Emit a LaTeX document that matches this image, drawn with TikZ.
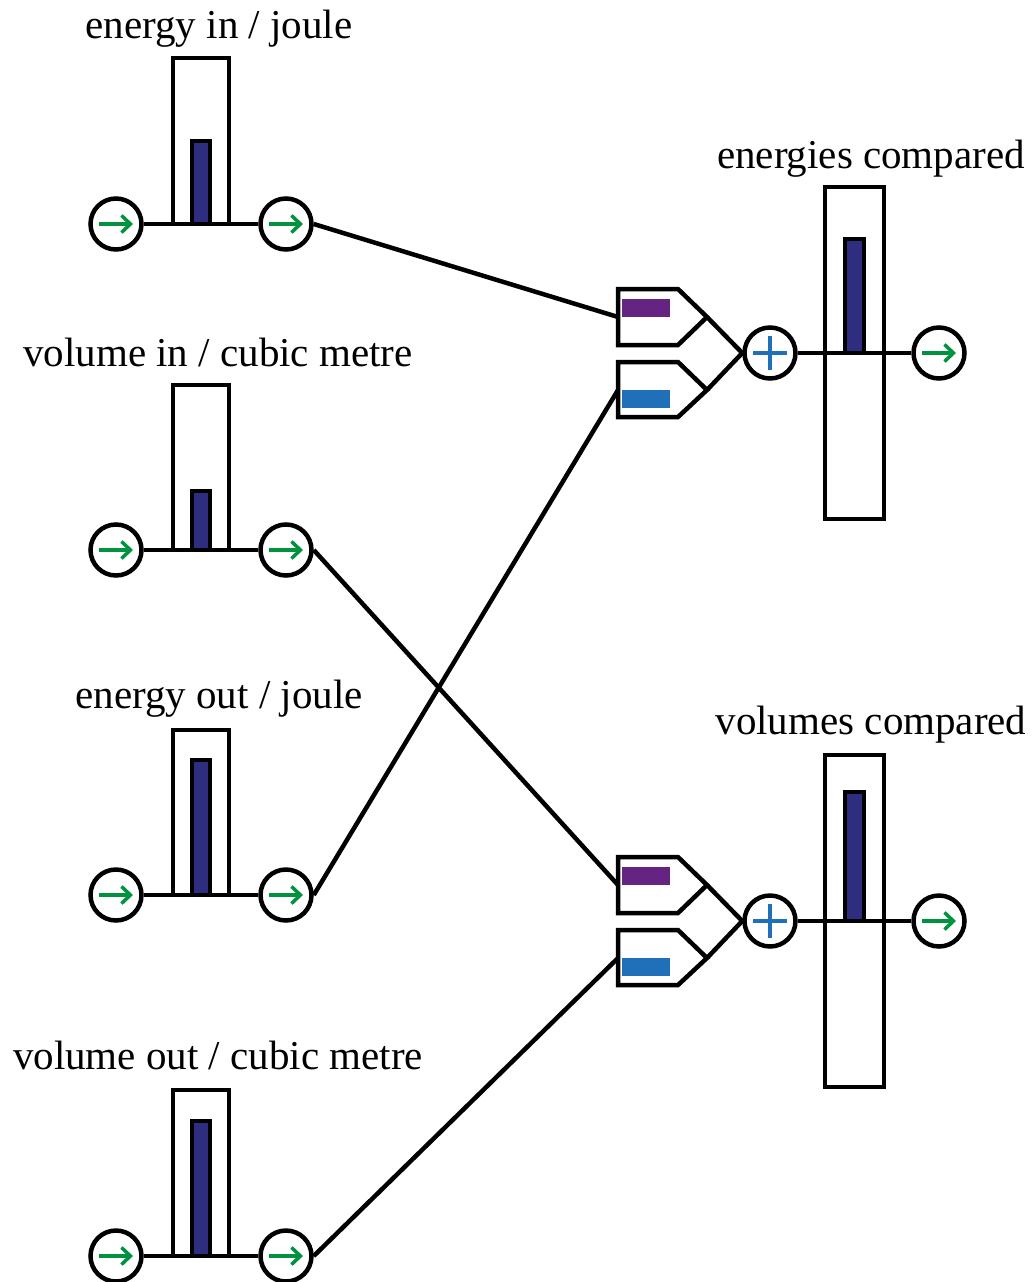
\documentclass[tikz,border=0pt]{standalone}
\usepackage{fontspec}
\setmainfont{Liberation Serif}
\usetikzlibrary{arrows.meta}
\definecolor{flowgreen}{RGB}{0,146,63}
\definecolor{levelnavy}{RGB}{46,45,127}
\definecolor{pluspurple}{RGB}{102,36,130}
\definecolor{minusblue}{RGB}{31,112,184}

\tikzset{
  port/.style={circle, draw, fill=white, line width=4.5pt, minimum size=51pt, inner sep=0pt},
  flowarrow/.style={flowgreen, line width=3.5pt, -{Straight Barb[length=9pt, width=17pt]}},
  wire/.style={line width=4.5pt},
  caption/.style={font=\fontsize{41}{48}\selectfont, anchor=base, inner sep=0pt},
}

% a stock: inflow port, tank with level, outflow port
% #1 name, #2 flow-line y, #3 tank top, #4 level top
\newcommand{\stockrow}[4]{%
  \node[port] (#1in) at (116,#2) {};
  \node[port] (#1out) at (286,#2) {};
  \draw[wire] (#1in) -- (#1out);
  \draw[wire, fill=white] (173,#2) rectangle (229,#3);
  \draw[wire, fill=levelnavy] (192,#2) rectangle (210,#4);
  \draw[flowarrow] ([xshift=-17pt]#1in.center) -- ([xshift=17pt]#1in.center);
  \draw[flowarrow] ([xshift=-17pt]#1out.center) -- ([xshift=17pt]#1out.center);
}

% a comparator: two signed inputs, summing port, tank, outflow port
% #1 name, #2 centre-line y, #3 level top
\newcommand{\comparator}[3]{%
  \draw[wire, fill=white] (825,#2-166) rectangle (884,#2+166);
  \node[port] (#1sum) at (770,#2) {};
  \node[port] (#1flow) at (939,#2) {};
  \draw[wire] (#1sum) -- (#1flow);
  \draw[wire, fill=levelnavy] (845,#2) rectangle (864,#3);
  \draw[flowarrow] ([xshift=-17pt]#1flow.center) -- ([xshift=17pt]#1flow.center);
  \draw[minusblue, line width=4.7pt] ([xshift=-17pt]#1sum.center) -- ([xshift=17pt]#1sum.center)
       ([yshift=-17pt]#1sum.center) -- ([yshift=17pt]#1sum.center);
  % positive input
  \draw[wire, fill=white, line join=miter] (618,#2-64) -- (678,#2-64) -- (707,#2-36)
       -- (678,#2-8) -- (618,#2-8) -- cycle;
  \fill[pluspurple] (622,#2-54) rectangle (670,#2-36);
  \coordinate (#1ptip) at (707,#2-36);
  \coordinate (#1plus) at (618,#2-36);
  % negative input
  \draw[wire, fill=white, line join=miter] (618,#2+9) -- (678,#2+9) -- (707,#2+37)
       -- (678,#2+64) -- (618,#2+64) -- cycle;
  \fill[minusblue] (622,#2+37) rectangle (670,#2+55);
  \coordinate (#1mtip) at (707,#2+37);
  \coordinate (#1minus) at (618,#2+37);
  \draw[wire] (#1ptip) -- (#1sum.west);
  \draw[wire] (#1mtip) -- (#1sum.west);
}

\begin{document}
\begin{tikzpicture}[x=1pt, y=-1pt]
\useasboundingbox (0,0) rectangle (1031,1282);

\stockrow{ein}{224}{58}{141}
\stockrow{vin}{550}{385}{491}
\stockrow{eout}{895}{730}{760}
\stockrow{vout}{1256}{1090}{1121}

\comparator{ecmp}{353}{239}
\comparator{vcmp}{921}{792}

\node[caption] (einlabel) at (219,38) {energy in / joule};
\node[caption] (vinlabel) at (218,366) {volume in / cubic metre};
\node[caption] (eoutlabel) at (219,708) {energy out / joule};
\node[caption] (voutlabel) at (218,1069) {volume out / cubic metre};
\node[caption] (ecmplabel) at (871,168) {energies compared};
\node[caption] (vcmplabel) at (871,734) {volumes compared};

\draw[wire] (einout.east) -- (ecmpplus);
\draw[wire] (eoutout.east) -- (ecmpminus);
\draw[wire] (vinout.east) -- (vcmpplus);
\draw[wire] (voutout.east) -- (vcmpminus);
\end{tikzpicture}
\end{document}
